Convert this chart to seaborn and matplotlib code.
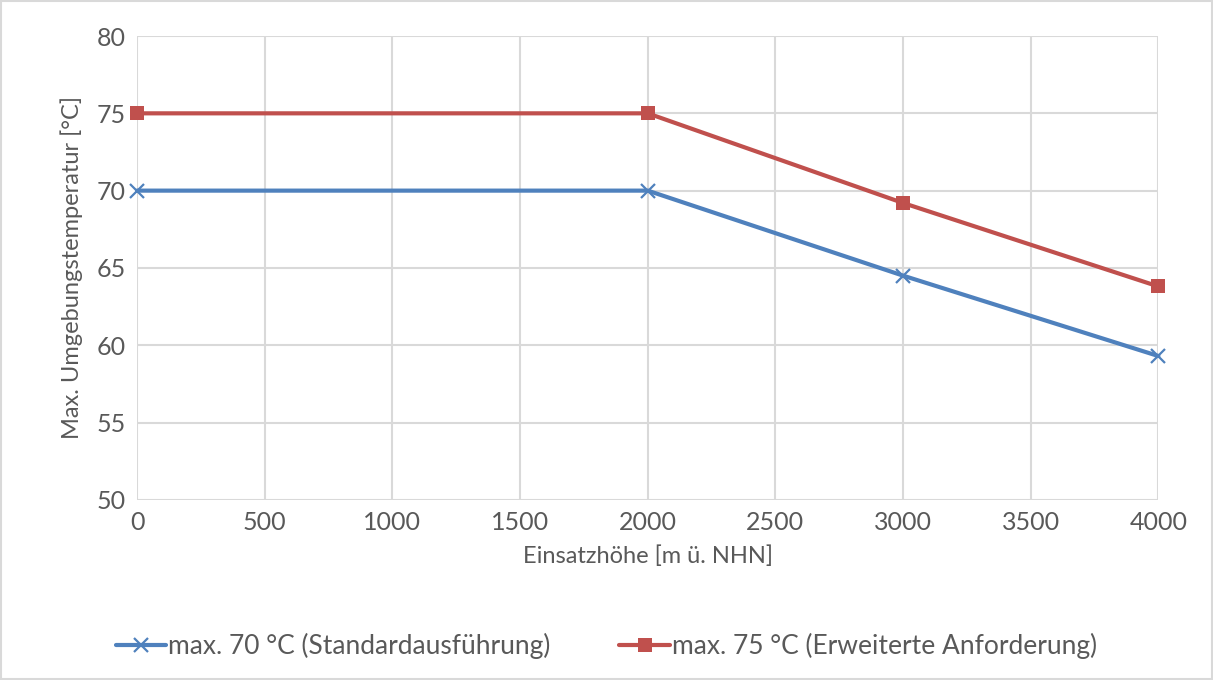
import matplotlib
matplotlib.use("Agg")
import matplotlib.pyplot as plt
import seaborn as sns

# data
hoehe = [0, 2000, 3000, 4000]
temp_standard = [70, 70, 64.5, 59.3]
temp_erweitert = [75, 75, 69.2, 63.8]
label_standard = "max. 70 °C (Standardausführung)"
label_erweitert = "max. 75 °C (Erweiterte Anforderung)"

sns.set_theme(style="white")
plt.rcParams['font.family'] = ['Lato', 'DejaVu Sans']
text_col = "#595959"

fig = plt.figure(figsize=(12.13, 6.80), dpi=100)
ax = fig.add_axes([0.113, 0.265, 0.842, 0.682])

blue, red = "#4F81BD", "#C0504D"
sns.lineplot(x=hoehe, y=temp_standard, color=blue, marker="x", linewidth=3,
             markersize=10, markeredgewidth=1.6, markeredgecolor=blue,
             label=label_standard, ax=ax, clip_on=False)
sns.lineplot(x=hoehe, y=temp_erweitert, color=red, marker="s", linewidth=3,
             markersize=10.5, markeredgewidth=0, label=label_erweitert, ax=ax, clip_on=False)

ax.set_xlim(0, 4000)
ax.set_ylim(50, 80)
ax.set_xticks(range(0, 4001, 500))
ax.set_yticks(range(50, 81, 5))
ax.grid(True, color="#D9D9D9", linewidth=1.5)
ax.set_axisbelow(True)
for s in ax.spines.values():
    s.set_visible(False)
ax.tick_params(axis="both", colors=text_col, labelsize=18, length=0, pad=8)
ax.set_xlabel("Einsatzhöhe [m ü. NHN]", color=text_col, fontsize=17, labelpad=8)
ax.set_ylabel("Max. Umgebungstemperatur [°C]", color=text_col, fontsize=17, labelpad=10)

ax.legend(loc="center", bbox_to_anchor=(0.5, 0.05), bbox_transform=fig.transFigure,
          ncol=2, frameon=False, fontsize=19, labelcolor=text_col, columnspacing=2.6,
          handlelength=1.9, handletextpad=0.1)

fig.patches.append(plt.Rectangle((0.001, 0.001), 0.998, 0.998, transform=fig.transFigure,
                                 fill=False, edgecolor="#D9D9D9", linewidth=1.5))

fig.savefig("out.png", dpi=100)
